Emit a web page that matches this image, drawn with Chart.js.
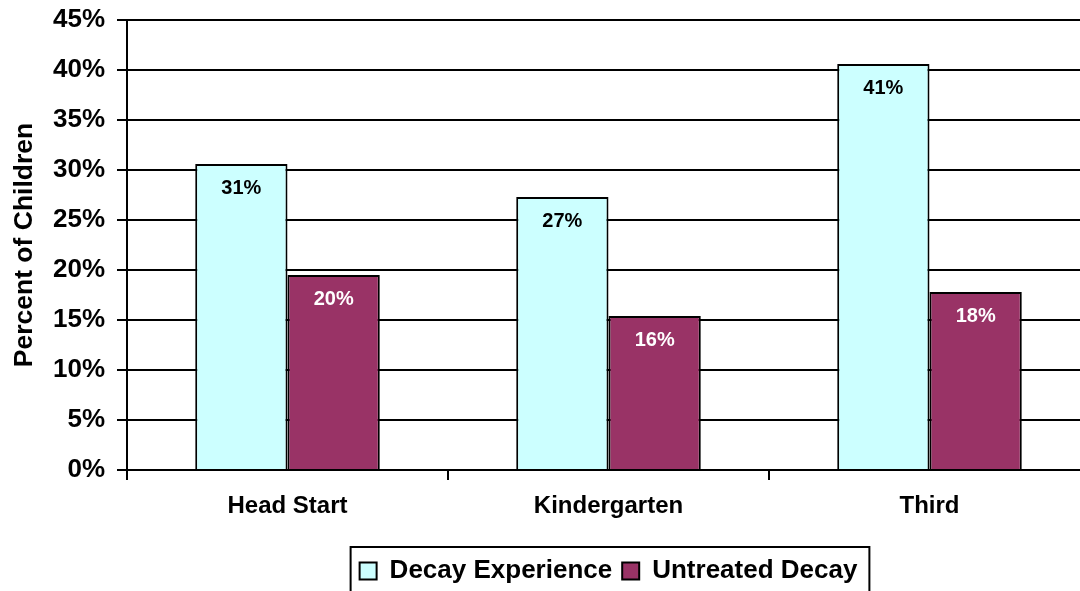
<!DOCTYPE html>
<html>
<head>
<meta charset="utf-8">
<script src="https://cdn.jsdelivr.net/npm/chart.js@4.4.1/dist/chart.umd.min.js"></script>
<style>
  html, body { margin: 0; padding: 0; background: #fff; overflow: hidden; }
  #wrap { position: relative; width: 1090px; height: 600px; }
</style>
</head>
<body>
<div id="wrap"><canvas id="myChart"></canvas></div>
<script>
const categories = ["Head Start", "Kindergarten", "Third"];
const decayExperience = [30.6, 27.3, 40.6];
const untreatedDecay = [19.5, 15.4, 17.8];
const valueLabels = [["31%", "27%", "41%"], ["20%", "16%", "18%"]];
const yTicks = [0, 5, 10, 15, 20, 25, 30, 35, 40, 45];

const FONT = "'Liberation Sans', Arial, sans-serif";

// labels inside the top of each bar
const barLabels = {
  id: "barLabels",
  afterDatasetsDraw(chart) {
    const ctx = chart.ctx;
    ctx.save();
    ctx.font = "bold 20px " + FONT;
    ctx.textAlign = "center";
    ctx.textBaseline = "middle";
    chart.data.datasets.forEach((ds, i) => {
      const meta = chart.getDatasetMeta(i);
      ctx.fillStyle = i === 0 ? "#000" : "#fff";
      meta.data.forEach((bar, j) => {
        ctx.fillText(valueLabels[i][j], bar.x, bar.y + 24);
      });
    });
    ctx.restore();
  }
};

// border round the legend
const legendBorder = {
  id: "legendBorder",
  afterDraw(chart) {
    const hb = chart.legend.legendHitBoxes;
    if (!hb || !hb.length) return;
    const left = Math.min(...hb.map(h => h.left)) - 9;
    const right = Math.max(...hb.map(h => h.left + h.width)) + 12;
    const top = hb[0].top - 11;
    const ctx = chart.ctx;
    ctx.save();
    ctx.strokeStyle = "#000";
    ctx.lineWidth = 2;
    ctx.strokeRect(left, top, right - left, 60);
    ctx.restore();
  }
};

new Chart(document.getElementById("myChart"), {
  type: "bar",
  data: {
    labels: categories,
    datasets: [
      {
        label: "Decay Experience",
        data: decayExperience,
        backgroundColor: "#CCFFFF",
        borderColor: "#000",
        borderWidth: 2,
        borderSkipped: "bottom",
      },
      {
        label: "Untreated Decay",
        data: untreatedDecay,
        backgroundColor: "#993366",
        borderColor: "#000",
        borderWidth: 2,
        borderSkipped: "bottom",
      },
    ],
  },
  options: {
    responsive: true,
    maintainAspectRatio: false,
    animation: false,
    devicePixelRatio: 1,
    layout: { padding: { top: 20, left: 0, right: 0, bottom: 6 } },
    datasets: { bar: { categoryPercentage: 0.575, barPercentage: 1 } },
    plugins: {
      tooltip: { enabled: false },
      legend: {
        position: "bottom",
        fullSize: false,
        labels: {
          color: "#000",
          font: { family: FONT, size: 26, weight: "bold" },
          boxWidth: 17,
          boxHeight: 17,
          padding: 10,
          useBorderRadius: false,
        },
      },
    },
    scales: {
      x: {
        grid: {
          drawOnChartArea: false,
          drawTicks: true,
          tickLength: 10,
          color: "#000",
          lineWidth: 2,
        },
        border: { color: "#000", width: 2 },
        ticks: {
          color: "#000",
          padding: 12,
          font: { family: FONT, size: 24, weight: "bold" },
        },
        afterFit(scale) { scale.height = 78; },
      },
      y: {
        min: 0,
        max: 45,
        afterBuildTicks(scale) { scale.ticks = yTicks.map(v => ({ value: v })); },
        grid: { color: "#000", lineWidth: 2, tickLength: 10 },
        border: { color: "#000", width: 2 },
        ticks: {
          color: "#000",
          padding: 12,
          font: { family: FONT, size: 26, weight: "bold" },
          callback: (v) => v + "%",
        },
        title: {
          display: true,
          text: "Percent of Children",
          color: "#000",
          padding: { top: 9, bottom: 0 },
          font: { family: FONT, size: 26.5, weight: "bold" },
        },
        afterFit(scale) {
          scale.width = 127;
          scale.paddingTop = 0;
          scale.paddingBottom = 0;
        },
      },
    },
  },
  plugins: [barLabels, legendBorder],
});
</script>
</body>
</html>
